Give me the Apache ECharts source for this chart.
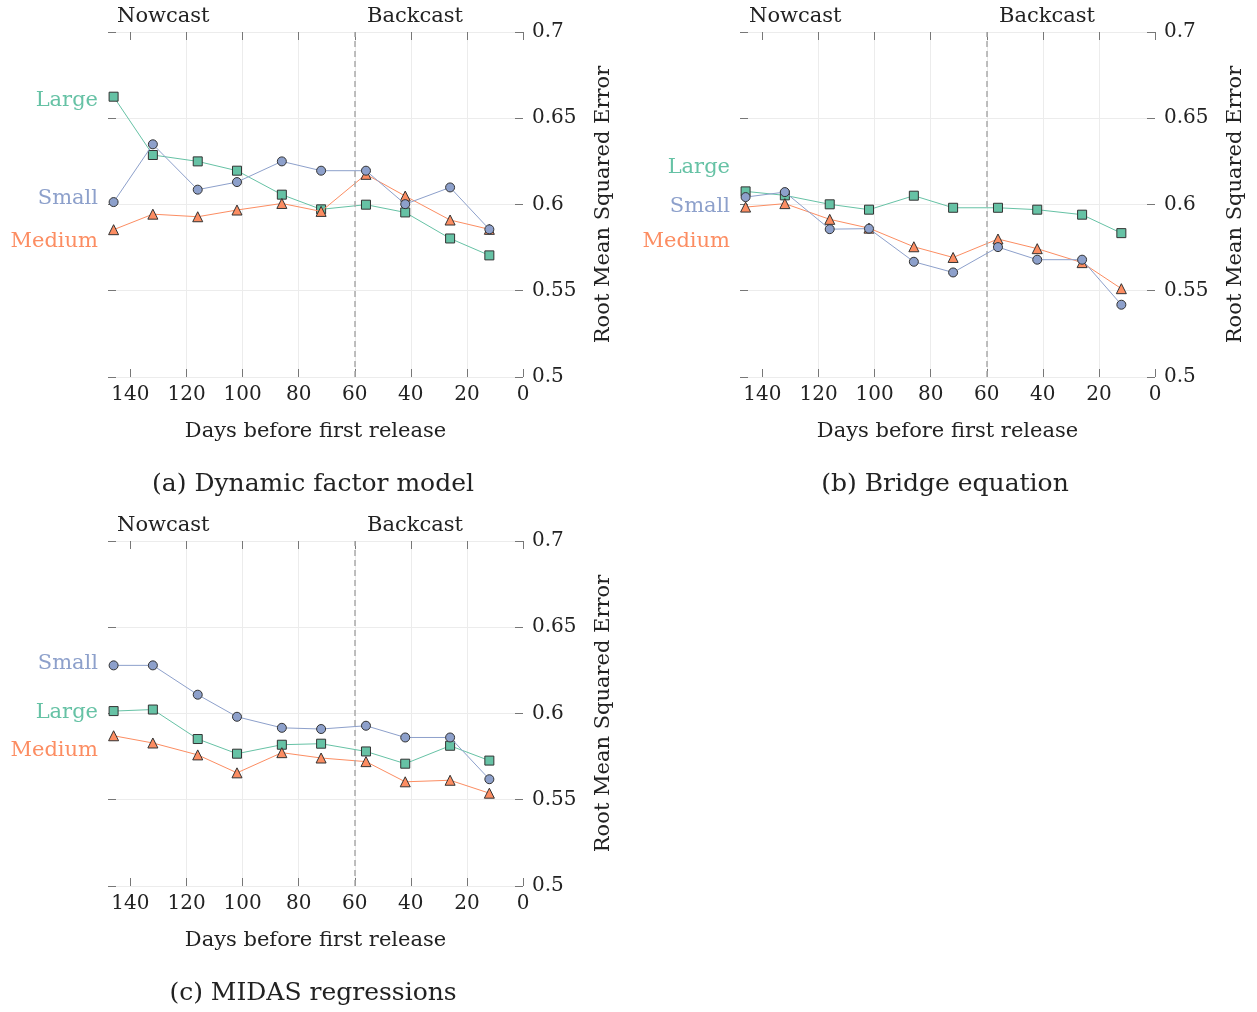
<!DOCTYPE html>
<html>
<head>
<meta charset="utf-8">
<script src="https://cdn.jsdelivr.net/npm/echarts@6/dist/echarts.min.js"></script>
<style>
  html, body { margin: 0; padding: 0; background: #fff; }
  #chart { width: 1257px; height: 1012px; }
</style>
</head>
<body>
<div id="chart"></div>
<script>
// days before first release (x positions of the points)
const days = [146, 132, 116, 102, 86, 72, 56, 42, 26, 12];
const xTicks = [0, 20, 40, 60, 80, 100, 120, 140];

// (a) dynamic factor model
const dfmLarge = [0.6625, 0.6287, 0.6250, 0.6196, 0.6057, 0.5972, 0.5999, 0.5954, 0.5803, 0.5705];
const dfmSmall = [0.6014, 0.6349, 0.6086, 0.6130, 0.6250, 0.6196, 0.6196, 0.6002, 0.6099, 0.5856];
const dfmMedium = [0.5854, 0.5944, 0.5929, 0.5968, 0.6006, 0.5960, 0.6175, 0.6049, 0.5910, 0.5856];

// (b) bridge equation
const bridgeLarge = [0.6076, 0.6053, 0.6001, 0.5970, 0.6051, 0.5981, 0.5981, 0.5970, 0.5941, 0.5834];
const bridgeSmall = [0.6043, 0.6072, 0.5857, 0.5860, 0.5668, 0.5606, 0.5753, 0.5680, 0.5680, 0.5419];
const bridgeMedium = [0.5985, 0.6005, 0.5914, 0.5863, 0.5755, 0.5693, 0.5800, 0.5744, 0.5663, 0.5512];

// (c) MIDAS regressions
const midasLarge = [0.6014, 0.6023, 0.5852, 0.5767, 0.5819, 0.5825, 0.5780, 0.5709, 0.5813, 0.5727];
const midasSmall = [0.6279, 0.6279, 0.6109, 0.5981, 0.5917, 0.5910, 0.5929, 0.5861, 0.5861, 0.5619];
const midasMedium = [0.5871, 0.5829, 0.5760, 0.5656, 0.5773, 0.5742, 0.5721, 0.5604, 0.5613, 0.5538];

const backcastStart = 60;
const captions = ['(a) Dynamic factor model', '(b) Bridge equation', '(c) MIDAS regressions'];

const FONT = 'DejaVu Serif';
const colors = { Large: '#66c2a5', Small: '#8da0cb', Medium: '#fc8d62' };
const symbols = { Large: 'rect', Small: 'circle', Medium: 'triangle' };

// panel layout: grid left/top, and where the group labels sit
const panels = [
  { left: 108, top: 32, data: { Large: dfmLarge, Small: dfmSmall, Medium: dfmMedium },
    labelY: { Large: 101, Small: 199, Medium: 242 } },
  { left: 740, top: 32, data: { Large: bridgeLarge, Small: bridgeSmall, Medium: bridgeMedium },
    labelY: { Large: 168, Small: 207, Medium: 242 } },
  { left: 108, top: 541, data: { Large: midasLarge, Small: midasSmall, Medium: midasMedium },
    labelY: { Large: 713, Small: 664, Medium: 751 } }
];
const GW = 415, GH = 345;

// ticks point into the plot box on all four sides
function ticks(extra) {
  return Object.assign({ show: true, inside: true, length: 8, lineStyle: { color: '#777', width: 1 } }, extra || {});
}
// axis line must exist for ticks to draw, but stays invisible and at the box edge
const hiddenLine = { show: true, onZero: false, lineStyle: { color: '#000', opacity: 0 } };

const grid = [], xAxis = [], yAxis = [], series = [], graphic = [];

panels.forEach((p, i) => {
  grid.push({ left: p.left, top: p.top, width: GW, height: GH });

  // bottom x axis with labels
  xAxis.push({
    gridIndex: i, type: 'value', inverse: true, min: 0, max: 148, position: 'bottom',
    axisLine: hiddenLine,
    axisTick: ticks({ customValues: xTicks }),
    axisLabel: { customValues: xTicks, fontFamily: FONT, fontSize: 20, color: '#222', margin: 8 },
    splitLine: { show: true, showMinLine: false, showMaxLine: false, lineStyle: { color: '#ececec', width: 1 } },
    name: 'Days before first release', nameLocation: 'middle', nameGap: 44,
    nameTextStyle: { fontFamily: FONT, fontSize: 21, color: '#222' }
  });
  // top x axis, ticks only
  xAxis.push({
    gridIndex: i, type: 'value', inverse: true, min: 0, max: 148, position: 'top',
    axisLine: hiddenLine,
    axisTick: ticks({ customValues: xTicks }),
    axisLabel: { show: false }, splitLine: { show: false }
  });
  // right y axis with labels
  yAxis.push({
    gridIndex: i, type: 'value', min: 0.5, max: 0.7, interval: 0.05, position: 'right',
    axisLine: hiddenLine, axisTick: ticks(),
    axisLabel: { fontFamily: FONT, fontSize: 20, color: '#222', margin: 9 },
    splitLine: { show: true, lineStyle: { color: '#ececec', width: 1 } },
    name: 'Root Mean Squared Error', nameLocation: 'middle', nameGap: 70,
    nameTextStyle: { fontFamily: FONT, fontSize: 21, color: '#222' }
  });
  // left y axis, ticks only
  yAxis.push({
    gridIndex: i, type: 'value', min: 0.5, max: 0.7, interval: 0.05, position: 'left',
    axisLine: hiddenLine, axisTick: ticks(),
    axisLabel: { show: false }, splitLine: { show: false }
  });

  ['Large', 'Medium', 'Small'].forEach((name, k) => {
    const s = {
      name: name + i, type: 'line',
      xAxisIndex: i * 2, yAxisIndex: i * 2,
      data: days.map((d, j) => [d, p.data[name][j]]),
      symbol: symbols[name], symbolSize: name === 'Medium' ? 10 : 9,
      lineStyle: { color: colors[name], width: 1 },
      itemStyle: { color: colors[name], borderColor: '#333', borderWidth: 1 },
      z: 3 + k, silent: true, animation: false
    };
    if (k === 0) {
      s.markLine = {
        silent: true, symbol: 'none', label: { show: false },
        lineStyle: { color: '#aaa', type: [6, 4], width: 1.5 },
        data: [{ xAxis: backcastStart }]
      };
    }
    series.push(s);

    graphic.push({
      type: 'text', x: p.left - 10, y: p.labelY[name],
      style: { text: name, fill: colors[name], font: '21px "' + FONT + '"',
               align: 'right', verticalAlign: 'middle' }
    });
  });

  // Nowcast / Backcast headings
  graphic.push({
    type: 'text', x: p.left + 9, y: p.top - 15,
    style: { text: 'Nowcast', fill: '#222', font: '21px "' + FONT + '"', verticalAlign: 'middle' }
  });
  graphic.push({
    type: 'text', x: p.left + 259, y: p.top - 15,
    style: { text: 'Backcast', fill: '#222', font: '21px "' + FONT + '"', verticalAlign: 'middle' }
  });
  // caption
  graphic.push({
    type: 'text', x: p.left + 205, y: p.top + 452,
    style: { text: captions[i], fill: '#222', font: '25px "' + FONT + '"',
             align: 'center', verticalAlign: 'middle' }
  });
});

const chart = echarts.init(document.getElementById('chart'), null, { renderer: 'canvas' });
chart.setOption({
  backgroundColor: '#fff',
  animation: false,
  grid: grid,
  xAxis: xAxis,
  yAxis: yAxis,
  series: series,
  graphic: graphic
});
</script>
</body>
</html>
